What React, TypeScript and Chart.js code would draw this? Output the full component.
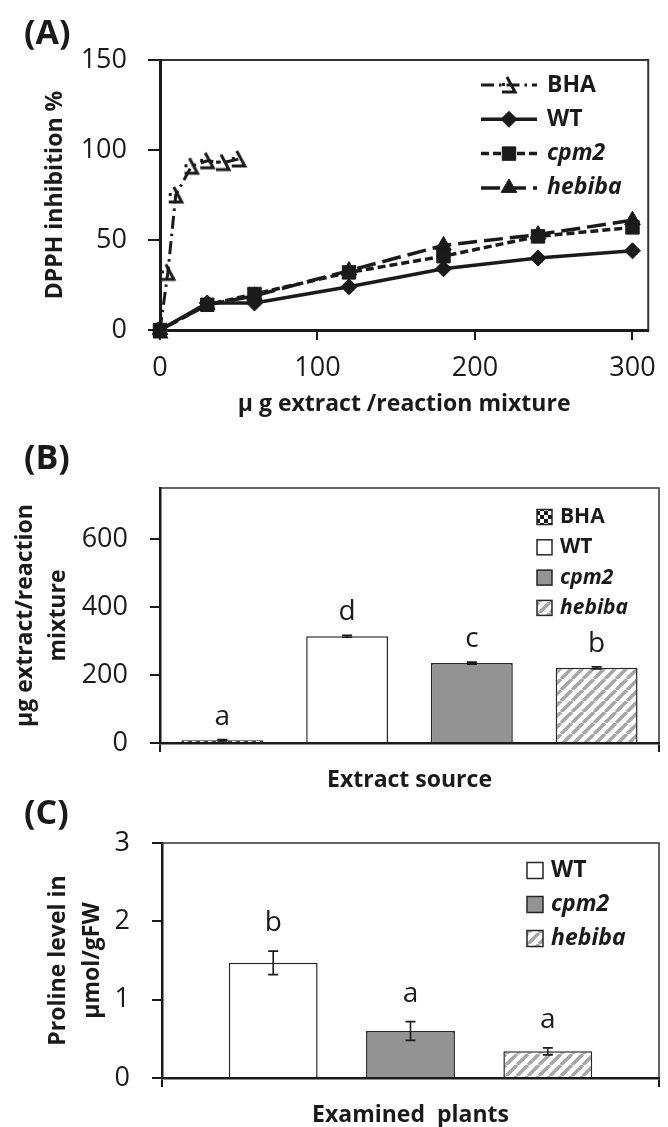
import { useEffect, useRef } from 'react'
import { Chart, registerables } from 'chart.js'
import type { ChartConfiguration, Plugin } from 'chart.js'
import { drawPoint } from 'chart.js/helpers'

Chart.register(...registerables)

const FONT = '"Open Sans", "Liberation Sans", sans-serif'
const INK = '#1a1a1a'

// (A) DPPH radical scavenging
const sampleDoses = [0, 30, 60, 120, 180, 240, 300]
const bhaDoses = [0, 5, 10, 20, 30, 40, 50]
const bhaInhibition = [0, 32, 75, 91, 94, 93, 95]
const wtInhibition = [0, 15, 15, 24, 34, 40, 44]
const cpm2Inhibition = [0, 14, 20, 32, 41, 52, 57]
const hebibaInhibition = [0, 14, 19, 33, 47, 53, 61]
const doseTicks = [0, 100, 200, 300]
const inhibitionTicks = [0, 50, 100, 150]

// (B) extract amount per reaction mixture
const extractSources = ['BHA', 'WT', 'cpm2', 'hebiba']
const extractAmounts = [8, 314, 235, 221]
const extractErrors = [2, 3, 3, 3]
const extractLetters = ['a', 'd', 'c', 'b']
const extractTicks = [0, 200, 400, 600]

// (C) proline content
const plantLines = ['WT', 'cpm2', 'hebiba']
const prolineLevels = [1.47, 0.6, 0.34]
const prolineErrors = [0.15, 0.12, 0.045]
const prolineLetters = ['b', 'a', 'a']
const prolineTicks = [0, 1, 2, 3]

const italicNames = ['cpm2', 'hebiba']

const tickFont = { family: FONT, size: 27 }
const titleFont = { family: FONT, size: 23, weight: 'bold' as const }

const fixedTicks = (values: number[]) => (scale: any) => {
  scale.ticks = values.map((value) => ({ value }))
}

const legendFont = (label: string, size: number) =>
  `${italicNames.includes(label) ? 'italic ' : ''}bold ${size}px ${FONT}`

const framePlugin: Plugin = {
  id: 'frame',
  beforeDraw(chart, _args, opts: any) {
    const { ctx, chartArea: a } = chart
    ctx.save()
    ctx.strokeStyle = '#333'
    ctx.lineWidth = opts.width ?? 1.5
    ctx.strokeRect(a.left, a.top, a.right - a.left, a.bottom - a.top)
    ctx.restore()
  },
}

const panelLabelPlugin: Plugin = {
  id: 'panelLabel',
  afterDraw(chart, _args, opts: any) {
    const { ctx } = chart
    ctx.save()
    ctx.fillStyle = INK
    ctx.font = `bold 34px ${FONT}`
    ctx.textAlign = 'left'
    ctx.textBaseline = 'middle'
    ctx.fillText(opts.text, opts.x, opts.y)
    ctx.restore()
  },
}

const lineLegendPlugin: Plugin = {
  id: 'lineLegend',
  afterDraw(chart, _args, opts: any) {
    const { ctx } = chart
    ctx.save()
    chart.data.datasets.forEach((ds: any, i) => {
      const y = opts.y + i * opts.rowGap
      ctx.strokeStyle = ds.borderColor
      ctx.lineWidth = ds.borderWidth
      ctx.setLineDash(ds.borderDash ?? [])
      ctx.beginPath()
      ctx.moveTo(opts.x, y)
      ctx.lineTo(opts.x + opts.sample, y)
      ctx.stroke()
      ctx.setLineDash([])
      ctx.fillStyle = ds.pointBackgroundColor
      ctx.strokeStyle = ds.pointBorderColor
      ctx.lineWidth = 1
      drawPoint(ctx, { pointStyle: ds.pointStyle, rotation: 0, radius: ds.pointRadius, borderWidth: 1 }, opts.x + opts.sample / 2, y)
      ctx.fillStyle = INK
      ctx.font = legendFont(ds.label, opts.size)
      ctx.textAlign = 'left'
      ctx.textBaseline = 'middle'
      ctx.fillText(ds.label, opts.textX, y)
    })
    ctx.restore()
  },
}

const boxLegendPlugin: Plugin = {
  id: 'boxLegend',
  afterDraw(chart, _args, opts: any) {
    const { ctx } = chart
    const ds: any = chart.data.datasets[0]
    const s = opts.box
    ctx.save()
    ;(chart.data.labels as string[]).forEach((label, i) => {
      const y = opts.y + i * opts.rowGap
      ctx.fillStyle = ds.backgroundColor[i]
      ctx.fillRect(opts.x, y - s / 2, s, s)
      ctx.strokeStyle = ds.borderColor
      ctx.lineWidth = 1.5
      ctx.strokeRect(opts.x, y - s / 2, s, s)
      ctx.fillStyle = INK
      ctx.font = legendFont(label, opts.size)
      ctx.textAlign = 'left'
      ctx.textBaseline = 'middle'
      ctx.fillText(label, opts.x + s + 8, y)
    })
    ctx.restore()
  },
}

// error bars plus significance letters above each bar
const barNotesPlugin: Plugin = {
  id: 'barNotes',
  afterDatasetsDraw(chart, _args, opts: any) {
    const { ctx } = chart
    const yScale = chart.scales.y
    const bars = chart.getDatasetMeta(0).data
    ctx.save()
    bars.forEach((bar: any, i) => {
      const v = opts.values[i]
      const e = opts.errors[i]
      const hi = yScale.getPixelForValue(v + e)
      const lo = yScale.getPixelForValue(v - e)
      ctx.strokeStyle = INK
      ctx.lineWidth = 1.6
      ctx.beginPath()
      ctx.moveTo(bar.x, lo)
      ctx.lineTo(bar.x, hi)
      ctx.moveTo(bar.x - 5, hi)
      ctx.lineTo(bar.x + 5, hi)
      ctx.moveTo(bar.x - 5, lo)
      ctx.lineTo(bar.x + 5, lo)
      ctx.stroke()
      ctx.fillStyle = INK
      ctx.font = `28px ${FONT}`
      ctx.textAlign = 'center'
      ctx.textBaseline = 'middle'
      ctx.fillText(opts.letters[i], bar.x, hi - opts.gap)
    })
    ctx.restore()
  },
}

function bhaMarker() {
  const c = document.createElement('canvas')
  c.width = 20
  c.height = 20
  const g = c.getContext('2d')!
  g.strokeStyle = INK
  g.lineWidth = 3
  g.beginPath()
  g.moveTo(8, 2)
  g.lineTo(16, 17)
  g.lineTo(3, 17)
  g.stroke()
  g.fillStyle = INK
  g.fillRect(3, 8, 3, 3)
  return c
}

function checkerPattern(ctx: CanvasRenderingContext2D) {
  const c = document.createElement('canvas')
  c.width = 8
  c.height = 8
  const g = c.getContext('2d')!
  g.fillStyle = '#ffffff'
  g.fillRect(0, 0, 8, 8)
  g.fillStyle = INK
  g.fillRect(0, 0, 4, 4)
  g.fillRect(4, 4, 4, 4)
  return ctx.createPattern(c, 'repeat') ?? '#777'
}

function stripePattern(ctx: CanvasRenderingContext2D) {
  const c = document.createElement('canvas')
  c.width = 11
  c.height = 11
  const g = c.getContext('2d')!
  g.fillStyle = '#ffffff'
  g.fillRect(0, 0, 11, 11)
  g.strokeStyle = '#a6a6a6'
  g.lineWidth = 3.5
  g.beginPath()
  for (const o of [-11, 0, 11]) {
    g.moveTo(o, 11)
    g.lineTo(o + 11, 0)
  }
  g.stroke()
  return ctx.createPattern(c, 'repeat') ?? '#ccc'
}

const axisGrid = (tickLength: number) => ({ drawOnChartArea: false, tickLength, lineWidth: 2, color: INK })
const endTicksOnly = (c: any) => (c.index === 0 || c.index === undefined ? INK : 'rgba(0,0,0,0)')

function buildDpph(): ChartConfiguration<'line'> {
  const series = [
    { label: 'BHA', xs: bhaDoses, ys: bhaInhibition, borderWidth: 3, borderDash: [13, 5, 2.5, 5], pointStyle: bhaMarker(), pointRadius: 9 },
    { label: 'WT', xs: sampleDoses, ys: wtInhibition, borderWidth: 3.5, borderDash: [], pointStyle: 'rectRot', pointRadius: 8 },
    { label: 'cpm2', xs: sampleDoses, ys: cpm2Inhibition, borderWidth: 3.5, borderDash: [8, 4], pointStyle: 'rect', pointRadius: 9.5 },
    { label: 'hebiba', xs: sampleDoses, ys: hebibaInhibition, borderWidth: 3.5, borderDash: [19, 7], pointStyle: 'triangle', pointRadius: 9 },
  ]
  return {
    type: 'line',
    data: {
      datasets: series.map(({ xs, ys, ...style }) => ({
        ...style,
        data: xs.map((x, i) => ({ x, y: ys[i] })),
        borderColor: INK,
        pointBackgroundColor: INK,
        pointBorderColor: INK,
        pointBorderWidth: 1,
        tension: 0,
        clip: false,
      })) as any,
    },
    options: {
      responsive: false,
      animation: false,
      events: [],
      layout: { padding: { top: 60, right: 11, left: 0, bottom: 0 } },
      plugins: {
        legend: { display: false },
        tooltip: { enabled: false },
        frame: { width: 2 },
        panelLabel: { text: '(A)', x: 24, y: 34 },
        lineLegend: { x: 481, y: 85, rowGap: 34.3, sample: 56, textX: 547, size: 23 },
      } as any,
      scales: {
        x: {
          type: 'linear',
          min: 0,
          max: 310,
          afterBuildTicks: fixedTicks(doseTicks),
          afterFit: (s: any) => {
            s.height = 100
          },
          grid: axisGrid(10),
          border: { color: INK, width: 3 },
          ticks: { color: INK, font: tickFont, padding: 12, maxRotation: 0, autoSkip: false },
          title: { display: true, text: 'μ g extract /reaction mixture', color: INK, font: titleFont, padding: { top: 0, bottom: 12 } },
        },
        y: {
          min: 0,
          max: 150,
          afterBuildTicks: fixedTicks(inhibitionTicks),
          afterFit: (s: any) => {
            s.width = 160
          },
          grid: axisGrid(12),
          border: { color: INK, width: 3 },
          ticks: { color: INK, font: tickFont, padding: 21 },
          title: { display: true, text: 'DPPH inhibition %', color: INK, font: titleFont, padding: { top: 42, bottom: 0 } },
        },
      },
    },
    plugins: [framePlugin, panelLabelPlugin, lineLegendPlugin],
  }
}

function buildExtract(ctx: CanvasRenderingContext2D): ChartConfiguration<'bar'> {
  return {
    type: 'bar',
    data: {
      labels: extractSources,
      datasets: [
        {
          data: extractAmounts,
          backgroundColor: [checkerPattern(ctx), '#ffffff', '#939393', stripePattern(ctx)] as any,
          borderColor: '#262626',
          borderWidth: 1.5,
          barPercentage: 0.656,
          categoryPercentage: 1,
        },
      ],
    },
    options: {
      responsive: false,
      animation: false,
      events: [],
      layout: { padding: { top: 73, right: 9, left: 0, bottom: 0 } },
      plugins: {
        legend: { display: false },
        tooltip: { enabled: false },
        frame: { width: 1.5 },
        panelLabel: { text: '(B)', x: 24, y: 44 },
        boxLegend: { x: 537, y: 102, rowGap: 30.3, box: 15, size: 21 },
        barNotes: { values: extractAmounts, errors: extractErrors, letters: extractLetters, gap: 23 },
      } as any,
      scales: {
        x: {
          type: 'category',
          offset: true,
          afterFit: (s: any) => {
            s.height = 62
          },
          grid: { ...axisGrid(9), offset: true, color: endTicksOnly },
          border: { color: INK, width: 2.5 },
          ticks: { display: false },
          title: { display: true, text: 'Extract source', color: INK, font: titleFont, padding: { top: 0, bottom: 11 } },
        },
        y: {
          min: 0,
          max: 750,
          afterBuildTicks: fixedTicks(extractTicks),
          afterFit: (s: any) => {
            s.width = 160
          },
          grid: axisGrid(10),
          border: { color: INK, width: 2.5 },
          ticks: { color: INK, font: tickFont, padding: 22 },
          title: {
            display: true,
            text: ['μg extract/reaction', 'mixture'],
            color: INK,
            font: { ...titleFont, lineHeight: 1.435 },
            padding: { top: 8.5, bottom: 0 },
          },
        },
      },
    },
    plugins: [framePlugin, panelLabelPlugin, boxLegendPlugin, barNotesPlugin],
  }
}

function buildProline(ctx: CanvasRenderingContext2D): ChartConfiguration<'bar'> {
  return {
    type: 'bar',
    data: {
      labels: plantLines,
      datasets: [
        {
          data: plantLines.map((_, i) => ({ x: i + 1, y: prolineLevels[i] })) as any,
          backgroundColor: ['#ffffff', '#939393', stripePattern(ctx)] as any,
          borderColor: '#262626',
          borderWidth: 1.5,
          barPercentage: 0.647,
          categoryPercentage: 1,
        },
      ],
    },
    options: {
      responsive: false,
      animation: false,
      events: [],
      layout: { padding: { top: 53, right: 9, left: 0, bottom: 0 } },
      plugins: {
        legend: { display: false },
        tooltip: { enabled: false },
        frame: { width: 1.5 },
        panelLabel: { text: '(C)', x: 24, y: 24 },
        boxLegend: { x: 527, y: 80.5, rowGap: 34, box: 16, size: 23 },
        barNotes: { values: prolineLevels, errors: prolineErrors, letters: prolineLetters, gap: 28 },
      } as any,
      scales: {
        x: {
          type: 'linear',
          min: 0.19,
          max: 3.81,
          offset: false,
          afterBuildTicks: (s: any) => {
            s.ticks = [{ value: s.min }, { value: s.max }]
          },
          afterFit: (s: any) => {
            s.height = 62
          },
          grid: { ...axisGrid(9), offset: false },
          border: { color: INK, width: 2.5 },
          ticks: { display: false },
          title: { display: true, text: 'Examined  plants', color: INK, font: titleFont, padding: { top: 0, bottom: 11 } },
        },
        y: {
          min: 0,
          max: 3,
          afterBuildTicks: fixedTicks(prolineTicks),
          afterFit: (s: any) => {
            s.width = 162
          },
          grid: axisGrid(10),
          border: { color: INK, width: 2.5 },
          ticks: { color: INK, font: tickFont, padding: 22 },
          title: {
            display: true,
            text: ['Proline level in', 'μmol/gFW'],
            color: INK,
            font: { ...titleFont, lineHeight: 1.52 },
            padding: { top: 40.5, bottom: 0 },
          },
        },
      },
    },
    plugins: [framePlugin, panelLabelPlugin, boxLegendPlugin, barNotesPlugin],
  }
}

function ChartCanvas({ top, height, build }: { top: number; height: number; build: (ctx: CanvasRenderingContext2D) => ChartConfiguration<any> }) {
  const canvasRef = useRef<HTMLCanvasElement>(null)

  useEffect(() => {
    const ctx = canvasRef.current?.getContext('2d')
    if (!ctx) return
    const chart = new Chart(ctx, build(ctx))
    return () => {
      chart.destroy()
    }
  }, [build])

  return (
    <canvas
      ref={canvasRef}
      width={668}
      height={height}
      style={{ position: 'absolute', left: 0, top, width: 668, height, display: 'block' }}
    />
  )
}

export default function App() {
  return (
    <div style={{ position: 'fixed', left: 0, top: 0, width: 668, height: 1127, overflow: 'hidden', background: '#ffffff' }}>
      <ChartCanvas top={0} height={430} build={buildDpph} />
      <ChartCanvas top={415} height={390} build={buildExtract} />
      <ChartCanvas top={790} height={350} build={buildProline} />
    </div>
  )
}
